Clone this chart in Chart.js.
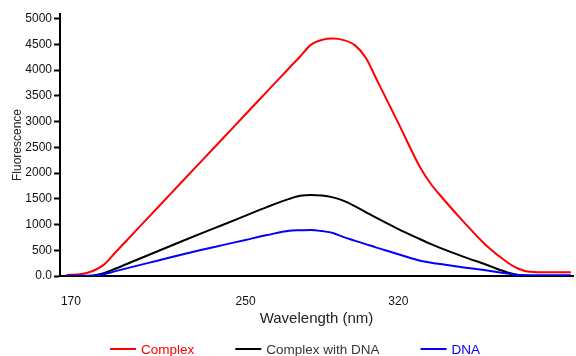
<!DOCTYPE html>
<html><head><meta charset="utf-8">
<script src="https://cdn.jsdelivr.net/npm/chart.js@4.4.1/dist/chart.umd.min.js"></script>
<style>html,body{margin:0;padding:0;background:#fff;} #wrap{position:relative;width:576px;height:356px;}</style>
</head><body><div id="wrap"><canvas id="c"></canvas></div>
<script>
// ---- data ----
const wavelengths = [168,175,180,185,190,200,210,220,230,240,250,260,270,275,280,285,290,295,300,305,310,320,330,335,340,350,360,370,375,380,390,399];
const complexValues = [20,39,97,216,441,891,1341,1792,2242,2691,3143,3592,4042,4265,4495,4587,4612,4583,4485,4246,3822,2970,2108,1782,1525,1047,603,263,140,82,72,72];
const complexDnaValues = [5,5,10,55,136,311,485,660,833,1001,1173,1343,1498,1557,1576,1565,1528,1460,1358,1242,1127,911,714,619,531,372,224,70,20,10,8,8];
const dnaValues = [0,0,2,35,90,197,302,408,510,605,701,796,878,888,893,872,837,755,687,619,551,424,296,257,228,167,111,49,19,10,8,8];
const seriesNames = ['Complex', 'Complex with DNA', 'DNA'];
const xTickLabels = [170, 250, 320];
const yTickValues = [0, 500, 1000, 1500, 2000, 2500, 3000, 3500, 4000, 4500, 5000];

const FONT = '"Liberation Sans", Arial, Helvetica, sans-serif';
function toPoints(vals){ return wavelengths.map((w,i)=>({x:w, y:vals[i]})); }

const bottomLegend = {
  id: 'bottomLegend',
  afterDraw(chart){
    const ctx = chart.ctx;
    ctx.save();
    ctx.font = '13.5px ' + FONT;
    ctx.textBaseline = 'middle';
    ctx.textAlign = 'left';
    let x = 110; const y = 349;
    chart.data.datasets.forEach(ds => {
      ctx.strokeStyle = ds.borderColor; ctx.lineWidth = 2;
      ctx.beginPath(); ctx.moveTo(x, y); ctx.lineTo(x + 26, y); ctx.stroke();
      ctx.fillStyle = ds.legendTextColor;
      ctx.fillText(ds.label, x + 31, y + 1);
      x += 31 + ctx.measureText(ds.label).width + 41;
    });
    ctx.restore();
  }
};

const commonLine = { borderWidth: 2, pointRadius: 0, fill: false, cubicInterpolationMode: 'monotone' };

new Chart(document.getElementById('c'), {
  type: 'line',
  data: {
    datasets: [
      Object.assign({ label: seriesNames[0], data: toPoints(complexValues), borderColor: '#ff0000', legendTextColor: '#ff0000', order: 2 }, commonLine),
      Object.assign({ label: seriesNames[1], data: toPoints(complexDnaValues), borderColor: '#000000', legendTextColor: '#2e3d2e', order: 1 }, commonLine),
      Object.assign({ label: seriesNames[2], data: toPoints(dnaValues), borderColor: '#0000ff', legendTextColor: '#0000ff', order: 0 }, commonLine)
    ]
  },
  options: {
    responsive: true, maintainAspectRatio: false, animation: false, devicePixelRatio: 1,
    events: [],
    layout: { padding: { left: 0, right: 3, top: 14, bottom: 28 } },
    plugins: { legend: { display: false }, tooltip: { enabled: false } },
    scales: {
      x: {
        type: 'linear', min: 165, max: 400,
        afterBuildTicks: s => { s.ticks = xTickLabels.map(v => ({ value: v })); },
        afterFit: s => { s.height = 52; },
        ticks: { color: '#111', font: { family: FONT, size: 12 }, padding: 10, autoSkip: false, maxRotation: 0, callback: v => String(v) },
        grid: { display: false },
        border: { display: true, color: '#000', width: 2 },
        title: { display: true, text: 'Wavelength (nm)', color: '#222', font: { family: FONT, size: 15 }, padding: { top: 0, bottom: 0 } }
      },
      y: {
        type: 'linear', min: 0, max: 5090,
        afterBuildTicks: s => { s.ticks = yTickValues.map(v => ({ value: v })); },
        afterFit: s => { s.width = 60; },
        ticks: { color: '#111', font: { family: FONT, size: 12 }, padding: 2, callback: v => v === 0 ? '0.0' : String(v) },
        grid: { display: true, drawOnChartArea: false, drawTicks: true, tickLength: 6, tickColor: '#000', tickWidth: 2 },
        border: { display: true, color: '#000', width: 2 },
        title: { display: true, text: 'Fluorescence', color: '#222', font: { family: FONT, size: 12 }, padding: { top: 10, bottom: 0 } }
      }
    }
  },
  plugins: [bottomLegend]
});
</script>
</body></html>
